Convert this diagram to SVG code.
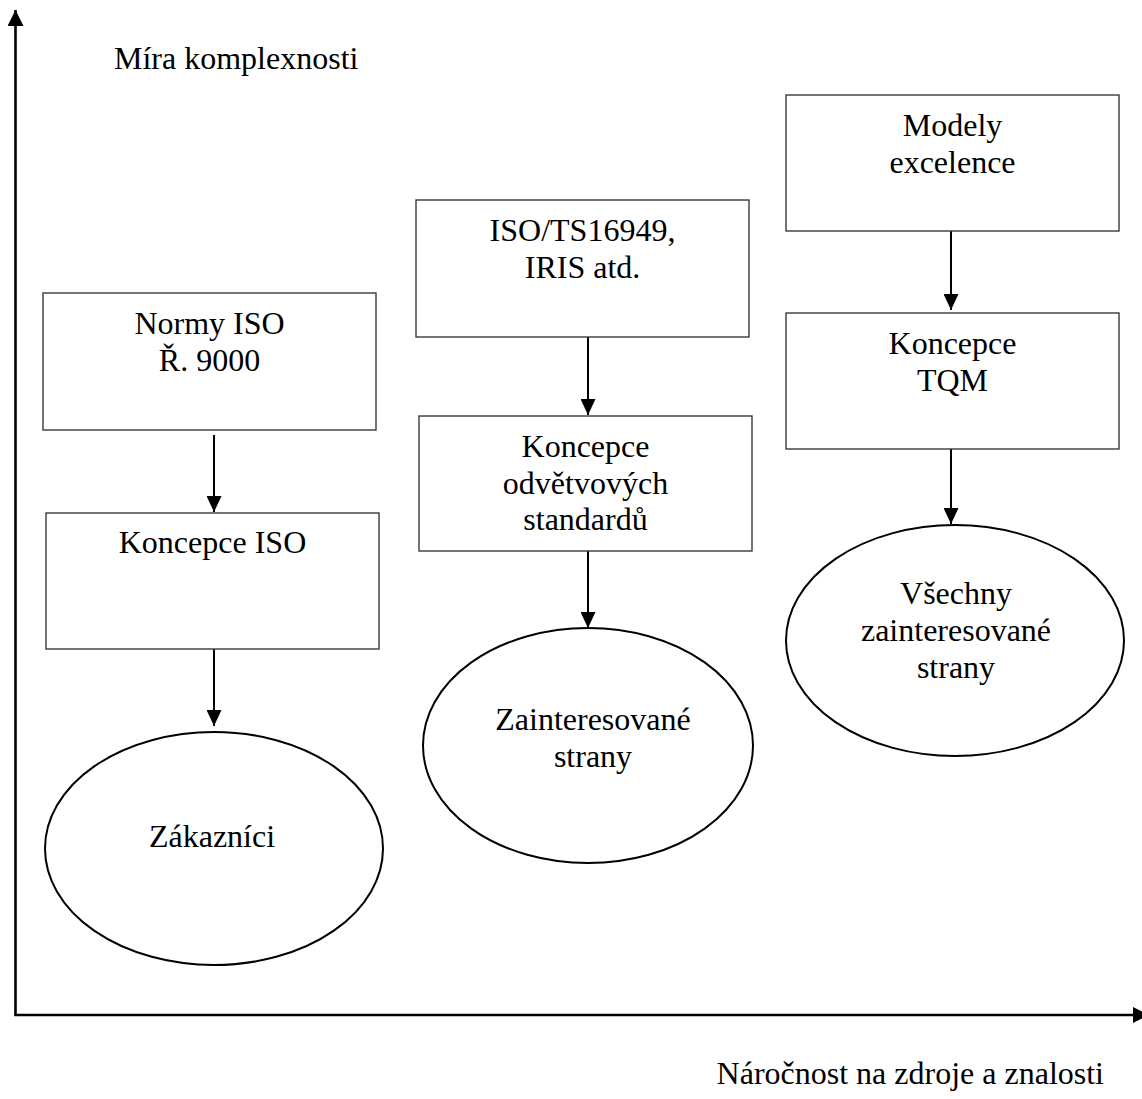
<svg xmlns="http://www.w3.org/2000/svg" width="1142" height="1099" viewBox="0 0 1142 1099">
<style>
  text { font-family: "Liberation Serif", "Times New Roman", serif; font-size: 32px; fill: #000; }
  .mid { text-anchor: middle; }
  .box { fill: #fff; stroke: #3a3a3a; stroke-width: 1.4; }
  .ell { fill: #fff; stroke: #000; stroke-width: 2; }
  .conn { stroke: #000; stroke-width: 2; fill: none; marker-end: url(#ah); }
  .axis { stroke: #000; stroke-width: 2.6; fill: none; }
</style>
<defs>
  <marker id="ah" viewBox="0 0 16 15" refX="16" refY="7.5" markerWidth="16" markerHeight="15" markerUnits="userSpaceOnUse" orient="auto">
    <path d="M0,0 L16,7.5 L0,15 Z" fill="#000"/>
  </marker>
  <marker id="axh" viewBox="0 0 16 16" refX="16" refY="8" markerWidth="16" markerHeight="16" markerUnits="userSpaceOnUse" orient="auto">
    <path d="M0,0 L16,8 L0,16 Z" fill="#000"/>
  </marker>
</defs>
<rect width="1142" height="1099" fill="#fff"/>

<g id="axes">
  <path class="axis" d="M15.5,1015 L15.5,10" marker-end="url(#axh)"/>
  <path class="axis" d="M14.2,1015 L1149,1015" marker-end="url(#axh)"/>
  <text x="114" y="69">Míra komplexnosti</text>
  <text x="1104" y="1084" text-anchor="end">Náročnost na zdroje a znalosti</text>
</g>

<g id="connectors">
  <path class="conn" d="M214,435 L214,512"/>
  <path class="conn" d="M214,649 L214,726"/>
  <path class="conn" d="M588,337 L588,415"/>
  <path class="conn" d="M588,551 L588,628"/>
  <path class="conn" d="M951,231 L951,310"/>
  <path class="conn" d="M951,449 L951,524"/>
</g>

<g id="normy-iso">
  <rect class="box" x="43" y="293" width="333" height="137"/>
  <text class="mid" x="209.5" y="334">Normy ISO</text>
  <text class="mid" x="209.5" y="371">Ř. 9000</text>
</g>
<g id="koncepce-iso">
  <rect class="box" x="46" y="513" width="333" height="136"/>
  <text class="mid" x="212.5" y="553">Koncepce ISO</text>
</g>
<g id="zakaznici">
  <ellipse class="ell" cx="214" cy="848.5" rx="169" ry="116.5"/>
  <text class="mid" x="212" y="847">Zákazníci</text>
</g>

<g id="iso-ts">
  <rect class="box" x="416" y="200" width="333" height="137"/>
  <text class="mid" x="582.5" y="241">ISO/TS16949,</text>
  <text class="mid" x="582.5" y="278">IRIS atd.</text>
</g>
<g id="koncepce-odvetvovych">
  <rect class="box" x="419" y="416" width="333" height="135"/>
  <text class="mid" x="585.5" y="457">Koncepce</text>
  <text class="mid" x="585.5" y="493.5">odvětvových</text>
  <text class="mid" x="585.5" y="530">standardů</text>
</g>
<g id="zainteresovane-strany">
  <ellipse class="ell" cx="588" cy="745.5" rx="165" ry="117.5"/>
  <text class="mid" x="593" y="730">Zainteresované</text>
  <text class="mid" x="593" y="767">strany</text>
</g>

<g id="modely-excelence">
  <rect class="box" x="786" y="95" width="333" height="136"/>
  <text class="mid" x="952.5" y="136">Modely</text>
  <text class="mid" x="952.5" y="173">excelence</text>
</g>
<g id="koncepce-tqm">
  <rect class="box" x="786" y="313" width="333" height="136"/>
  <text class="mid" x="952.5" y="354">Koncepce</text>
  <text class="mid" x="952.5" y="391">TQM</text>
</g>
<g id="vsechny-zainteresovane">
  <ellipse class="ell" cx="955" cy="640.5" rx="169" ry="115.5"/>
  <text class="mid" x="956" y="604">Všechny</text>
  <text class="mid" x="956" y="641">zainteresované</text>
  <text class="mid" x="956" y="678">strany</text>
</g>
</svg>
